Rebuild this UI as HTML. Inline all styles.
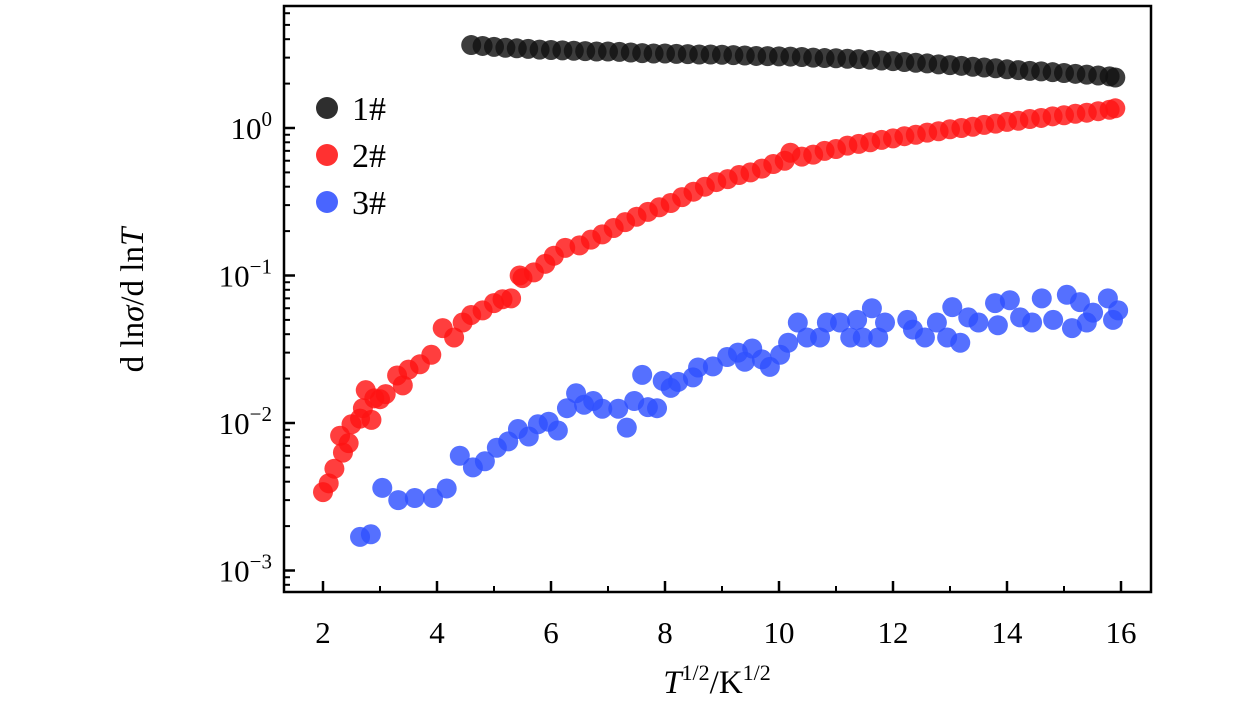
<!DOCTYPE html>
<html><head><meta charset="utf-8"><style>
html,body{margin:0;padding:0;background:#fff}
svg text{font-family:"Liberation Serif","DejaVu Serif",serif;fill:#000}
</style></head><body>
<svg id="chart" width="1260" height="709" viewBox="0 0 1260 709" xmlns="http://www.w3.org/2000/svg">
<g id="marks"></g>
<g id="axes"></g>
</svg>
<script>
const s1x=[4.6,4.8,5.0,5.2,5.4,5.6,5.8,6.0,6.2,6.4,6.6,6.8,7.0,7.2,7.4,7.6,7.8,8.0,8.2,8.4,8.6,8.8,9.0,9.2,9.4,9.6,9.8,10.0,10.2,10.4,10.6,10.8,11.0,11.2,11.4,11.6,11.8,12.0,12.2,12.4,12.6,12.8,13.0,13.2,13.4,13.6,13.8,14.0,14.2,14.4,14.6,14.8,15.0,15.2,15.4,15.6,15.8,15.9];
const s1y=[3.65,3.6,3.55,3.5,3.47,3.44,3.4,3.38,3.36,3.34,3.32,3.3,3.3,3.28,3.25,3.22,3.2,3.2,3.18,3.17,3.15,3.15,3.14,3.12,3.1,3.08,3.07,3.06,3.05,3.03,3.0,2.98,2.97,2.95,2.93,2.9,2.87,2.84,2.8,2.77,2.74,2.7,2.67,2.64,2.6,2.57,2.54,2.5,2.47,2.44,2.42,2.39,2.36,2.33,2.3,2.27,2.24,2.2];
const s2x=[2.0,2.1,2.2,2.3,2.35,2.45,2.5,2.65,2.7,2.75,2.85,2.9,3.0,3.1,3.3,3.4,3.5,3.7,3.9,4.1,4.3,4.45,4.6,4.8,5.0,5.15,5.3,5.45,5.5,5.7,5.9,6.05,6.25,6.5,6.7,6.9,7.1,7.3,7.5,7.7,7.9,8.1,8.3,8.5,8.7,8.9,9.1,9.3,9.5,9.7,9.9,10.1,10.2,10.4,10.6,10.8,11.0,11.2,11.4,11.6,11.8,12.0,12.2,12.4,12.6,12.8,13.0,13.2,13.4,13.6,13.8,14.0,14.2,14.4,14.6,14.8,15.0,15.2,15.4,15.6,15.8,15.9];
const s2y=[0.0034,0.0039,0.0049,0.0082,0.0063,0.0073,0.0098,0.0107,0.0126,0.0167,0.0105,0.0147,0.0145,0.0157,0.021,0.018,0.023,0.025,0.029,0.044,0.038,0.048,0.054,0.058,0.065,0.069,0.07,0.1,0.096,0.105,0.12,0.136,0.154,0.16,0.175,0.19,0.21,0.23,0.25,0.27,0.29,0.31,0.34,0.37,0.4,0.43,0.45,0.48,0.5,0.53,0.57,0.6,0.68,0.64,0.66,0.7,0.72,0.76,0.78,0.8,0.83,0.85,0.88,0.9,0.93,0.95,0.98,1.0,1.02,1.05,1.07,1.1,1.12,1.15,1.17,1.2,1.22,1.25,1.27,1.3,1.33,1.36];
const s3x=[2.65,2.84,3.04,3.32,3.61,3.93,4.17,4.40,4.63,4.84,5.05,5.25,5.42,5.61,5.77,5.96,6.12,6.28,6.44,6.58,6.74,6.9,7.18,7.33,7.46,7.60,7.7,7.86,7.96,8.1,8.23,8.49,8.58,8.84,9.09,9.28,9.40,9.53,9.70,9.84,10.02,10.16,10.33,10.49,10.72,10.84,11.07,11.25,11.37,11.47,11.63,11.74,11.86,12.25,12.35,12.56,12.77,12.95,13.04,13.18,13.32,13.5,13.79,13.84,14.05,14.23,14.44,14.61,14.81,15.05,15.14,15.28,15.40,15.51,15.77,15.86,15.95];
const s3y=[0.00169,0.00176,0.00363,0.0030,0.0031,0.0031,0.0036,0.0060,0.0050,0.0055,0.0068,0.0075,0.0091,0.0081,0.0098,0.0102,0.0089,0.0126,0.0159,0.0133,0.0141,0.0125,0.0125,0.0093,0.0141,0.0212,0.0128,0.0126,0.0193,0.0173,0.0190,0.0204,0.0238,0.0242,0.028,0.030,0.026,0.032,0.027,0.024,0.029,0.035,0.048,0.038,0.038,0.048,0.048,0.038,0.050,0.038,0.060,0.038,0.048,0.050,0.043,0.038,0.048,0.038,0.061,0.035,0.052,0.048,0.065,0.046,0.068,0.052,0.048,0.070,0.050,0.074,0.044,0.066,0.048,0.056,0.070,0.050,0.058];
const xTicks=[2,4,6,8,10,12,14,16];
const yExps=[0,-1,-2,-3];
const legendLabels=["1#","2#","3#"];

const NS="http://www.w3.org/2000/svg";
const L=284,R=1151,T=6,B=592;
const X=v=>323+(v-2)*57;
const Y=v=>128-147.5*Math.log10(v);
function el(tag,attrs,parent){const e=document.createElementNS(NS,tag);for(const k in attrs)e.setAttribute(k,attrs[k]);parent.appendChild(e);return e;}
const marks=document.getElementById('marks'),axes=document.getElementById('axes');
const series=[[s1x,s1y,'#111111','series-1'],[s2x,s2y,'#ff1414','series-2'],[s3x,s3y,'#3050ff','series-3']];
series.forEach(([xs,ys,c,n])=>{
  const g=el('g',{},marks);
  
  
  xs.forEach((x,i)=>{
    const p=el('circle',{cx:X(x),cy:Y(ys[i]),r:10,fill:c,'fill-opacity':0.82},g);
    
    
  });
});
const frame=el('rect',{x:L,y:T,width:R-L,height:B-T,fill:'none',stroke:'#000','stroke-width':2.5},axes);


xTicks.forEach(v=>{
  el('line',{x1:X(v),x2:X(v),y1:B,y2:B-11,stroke:'#000','stroke-width':2.5},axes);
  if(X(v+1)<R) el('line',{x1:X(v+1),x2:X(v+1),y1:B,y2:B-6,stroke:'#000','stroke-width':2},axes);
  const t=el('text',{x:X(v),y:643,'text-anchor':'middle','font-size':31},axes);
  t.textContent=v;
  
  
});
for(let e=-4;e<=0;e++){
  for(let m=1;m<10;m++){
    const y=Y(m*Math.pow(10,e));
    if(y<T||y>B)continue;
    el('line',{x1:L,x2:L+(m===1?11:6),y1:y,y2:y,stroke:'#000','stroke-width':m===1?2.5:2},axes);
  }
}
yExps.forEach(e=>{
  const t=el('text',{x:272,y:Y(Math.pow(10,e))+11,'text-anchor':'end','font-size':31},axes);
  t.innerHTML='10<tspan dy="-13" font-size="21">'+(e===0?'0':'\u2212'+(-e))+'</tspan>';
  
  
});
const lg=el('g',{},axes);


series.forEach(([a,b,c,n],i)=>{
  const y=108+i*47;
  const m=el('circle',{cx:327,cy:y,r:11,fill:c,'fill-opacity':0.88},lg);
  
  
  const t=el('text',{x:352,y:y+12,'font-size':34},lg);
  t.textContent=legendLabels[i];
  
  
});
const xt=el('text',{x:717,y:693,'text-anchor':'middle','font-size':33},axes);
xt.innerHTML='<tspan font-style="italic">T</tspan><tspan dy="-13" font-size="22">1/2</tspan><tspan dy="13">/K</tspan><tspan dy="-13" font-size="22">1/2</tspan>';


const yt=el('text',{x:0,y:0,'text-anchor':'middle','font-size':33,transform:'translate(143,300) rotate(-90)'},axes);
yt.innerHTML='d ln<tspan font-style="italic">σ</tspan>/d ln<tspan font-style="italic">T</tspan>';


</script>
</body></html>
